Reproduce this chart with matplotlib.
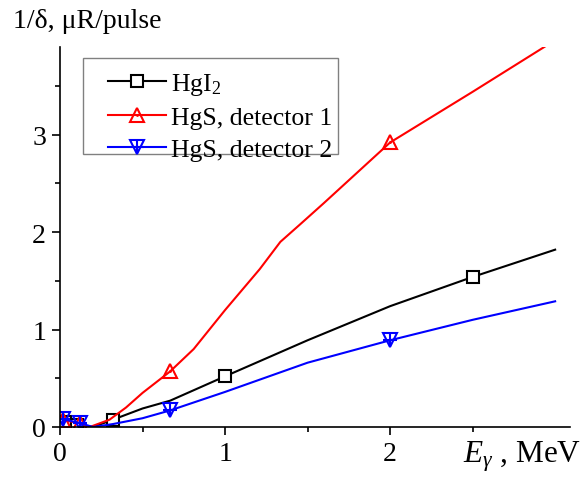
import matplotlib
matplotlib.use("Agg")
import matplotlib.pyplot as plt
from matplotlib.legend_handler import HandlerTuple
from matplotlib.patches import Rectangle

plt.rcParams['font.family'] = ['Liberation Serif', 'DejaVu Serif']
plt.rcParams['mathtext.fontset'] = 'custom'
plt.rcParams['mathtext.rm'] = 'Liberation Serif'
plt.rcParams['mathtext.it'] = 'Liberation Serif:italic'

# Data (energy in MeV, 1/delta in uR/pulse)
hgi2_x = [0.03, 0.06, 0.1, 0.2, 0.32, 0.5, 0.667, 1.0, 1.5, 2.0, 2.5, 3.0]
hgi2_y = [0.05, 0.04, 0.02, 0.0, 0.075, 0.19, 0.27, 0.52, 0.89, 1.24, 1.54, 1.82]
hgi2_marks = [0, 2, 4, 7, 10]

hgs1_x = [0.02, 0.12, 0.18, 0.3, 0.4, 0.5, 0.667, 0.81, 1.0, 1.21, 1.335, 1.455, 1.6, 2.0, 2.5, 3.0]
hgs1_y = [0.07, 0.04, 0.0, 0.075, 0.20, 0.35, 0.57, 0.80, 1.20, 1.62, 1.90, 2.08, 2.30, 2.92, 3.44, 3.97]
hgs1_marks = [0, 1, 6, 13]

hgs2_x = [0.02, 0.12, 0.2, 0.32, 0.5, 0.667, 1.0, 1.5, 2.0, 2.5, 3.0]
hgs2_y = [0.08, 0.04, 0.0, 0.03, 0.09, 0.17, 0.36, 0.66, 0.89, 1.10, 1.29]
hgs2_marks = [0, 1, 5, 8]

labels = ['HgI$_2$', 'HgS, detector 1', 'HgS, detector 2']

W, H = 584, 481
fig = plt.figure(figsize=(W/100, H/100), dpi=100)
ax = fig.add_axes([60/W, 53/H, 510/W, 380/H])

l1, = ax.plot(hgi2_x, hgi2_y, color='black', lw=1.5, marker='s', ms=8,
              mfc='white', mec='black', mew=1.5, markevery=hgi2_marks)
l2, = ax.plot(hgs1_x, hgs1_y, color='red', lw=1.5, marker='^', ms=10,
              mfc='none', mec='red', mew=1.5, markevery=hgs1_marks)
d2, = ax.plot([hgs1_x[i] for i in hgs1_marks], [hgs1_y[i] for i in hgs1_marks],
              ls='none', marker='.', ms=2, color='red')
l3, = ax.plot(hgs2_x, hgs2_y, color='blue', lw=1.5, marker='v', ms=10,
              mfc='none', mec='blue', mew=1.5, markevery=hgs2_marks)
p3, = ax.plot([hgs2_x[i] for i in hgs2_marks], [hgs2_y[i] for i in hgs2_marks],
              ls='none', marker='+', ms=10, mew=1.5, color='blue')

ax.set_xlim(0, 3.09)
ax.set_ylim(0, 3.9)
ax.spines['top'].set_visible(False)
ax.spines['right'].set_visible(False)
for s in ['left', 'bottom']:
    ax.spines[s].set_linewidth(1.2)

ax.set_xticks([0, 1, 2])
ax.set_xticks([0.5, 1.5, 2.5], minor=True)
ax.set_yticks([0, 1, 2, 3])
ax.set_yticks([0.5, 1.5, 2.5, 3.5], minor=True)
ax.tick_params(which='major', direction='out', length=6, width=1.2, labelsize=20, pad=4)
ax.tick_params(which='minor', direction='out', length=3.5, width=1.2)

ax.text((463-60)/510, (428-463)/380, r'$E_{\gamma}$ , MeV', transform=ax.transAxes,
        fontsize=22.5, ha='left', va='baseline')
fig.text(13/W, 1-28/H, '1/δ, μR/pulse', fontsize=20, ha='left', va='baseline')

# legend frame (Origin-style box)
fig.patches.append(Rectangle((83/W, 1-155/H), 255/W, 96/H, transform=fig.transFigure,
                             facecolor='white', edgecolor='gray', lw=1.0, zorder=4))

leg = fig.legend([l1, (l2, d2), (l3, p3)], labels,
                 handler_map={tuple: HandlerTuple(ndivide=1, pad=0)},
                 loc='upper left', bbox_to_anchor=(108/W, 1-72/H),
                 fontsize=18.5, frameon=False,
                 handlelength=2.26, handletextpad=0.2, labelspacing=0.36,
                 borderpad=0, borderaxespad=0)
leg.set_zorder(5)

fig.savefig('out.png', dpi=100)
